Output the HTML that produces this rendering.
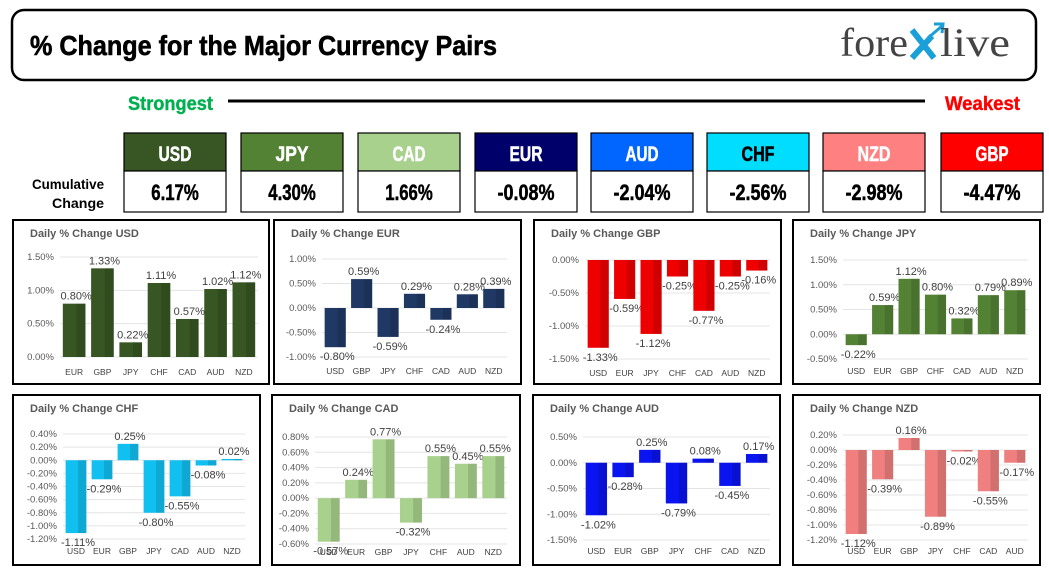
<!DOCTYPE html>
<html><head><meta charset="utf-8">
<style>
body{margin:0;background:#fff;width:1049px;height:581px;overflow:hidden;font-family:"Liberation Sans",sans-serif}
svg{display:block}
</style></head>
<body>
<svg id="s" width="1049" height="581" viewBox="0 0 1049 581" xmlns="http://www.w3.org/2000/svg">
<defs></defs>
<rect x="12" y="10" width="1024" height="70" rx="12" fill="#fff" stroke="#000" stroke-width="2.5"/>
<text x="30" y="55" font-family="Liberation Sans" font-weight="bold" font-size="28" fill="#000" textLength="467" lengthAdjust="spacingAndGlyphs" stroke="#000" stroke-width="0.6">% Change for the Major Currency Pairs</text>
<g>
<text x="840" y="56" font-family="Liberation Serif" font-size="40" fill="#444" textLength="68" lengthAdjust="spacingAndGlyphs">fore</text>
<path d="M912 30 L934 58 M932 36 L912 58" stroke="#1a9fd8" stroke-width="6" fill="none"/>
<path d="M928 38 L942 26 M934 24 L943 24 L942 33" stroke="#1a9fd8" stroke-width="3" fill="none"/>
<text x="940" y="56" font-family="Liberation Serif" font-size="40" fill="#444" textLength="70" lengthAdjust="spacingAndGlyphs">live</text>
</g>
<text x="128" y="110" font-weight="bold" font-size="19" fill="#00b050" textLength="85" lengthAdjust="spacingAndGlyphs" stroke="#00b050" stroke-width="0.4">Strongest</text>
<line x1="228" y1="101" x2="925" y2="101" stroke="#000" stroke-width="3"/>
<text x="945" y="110" font-weight="bold" font-size="19" fill="#f00" textLength="75" lengthAdjust="spacingAndGlyphs" stroke="#f00" stroke-width="0.4">Weakest</text>
<text x="104" y="189" text-anchor="end" font-weight="bold" font-size="14" fill="#000" textLength="72" lengthAdjust="spacingAndGlyphs">Cumulative</text>
<text x="104" y="208" text-anchor="end" font-weight="bold" font-size="14" fill="#000" textLength="52" lengthAdjust="spacingAndGlyphs">Change</text>
<g id="boxes"></g>
<g id="panels"></g>
</svg>
<script>
const ns="http://www.w3.org/2000/svg";
const svg=document.getElementById('s');
function mk(t,a,p){const e=document.createElementNS(ns,t);for(const k in a)e.setAttribute(k,a[k]);p.appendChild(e);return e;}

// Cumulative ranking
const rankCurrencies=["USD","JPY","CAD","EUR","AUD","CHF","NZD","GBP"];
const rankValues=[6.17,4.30,1.66,-0.08,-2.04,-2.56,-2.98,-4.47];
const rankColors=["#375623","#548235","#a9d18e","#00006b","#0066ff","#00ddff","#ff8080","#ff0000"];
const rankText=["#fff","#fff","#fff","#fff","#fff","#000","#fff","#fff"];
const boxX=[124,241,358,475,591,707,823,941];
const boxesG=document.getElementById('boxes');
rankCurrencies.forEach((c,i)=>{
  const g=mk('g',{},boxesG);
  
  
  mk('rect',{x:boxX[i],y:133,width:102,height:38,fill:rankColors[i],stroke:'#000','stroke-width':1.2},g);
  mk('rect',{x:boxX[i],y:171,width:102,height:41,fill:'#fff',stroke:'#000','stroke-width':1.2},g);
  const t=mk('text',{x:boxX[i]+51,y:161,'text-anchor':'middle','font-weight':'bold','font-size':21,fill:rankText[i],stroke:rankText[i],'stroke-width':0.5,textLength:c.length*11,lengthAdjust:'spacingAndGlyphs'},g);t.textContent=c;
  const s=rankValues[i].toFixed(2)+'%';
  const v=mk('text',{x:boxX[i]+51,y:200,'text-anchor':'middle','font-weight':'bold','font-size':22,fill:'#000',stroke:'#000','stroke-width':0.5,textLength:s.length*9.5,lengthAdjust:'spacingAndGlyphs'},g);v.textContent=s;
});

// Panel data
const usdCats=["EUR","GBP","JPY","CHF","CAD","AUD","NZD"];
const usdVals=[0.80,1.33,0.22,1.11,0.57,1.02,1.12];
const usdTicks=[0,0.5,1.0,1.5];
const eurCats=["USD","GBP","JPY","CHF","CAD","AUD","NZD"];
const eurVals=[-0.80,0.59,-0.59,0.29,-0.24,0.28,0.39];
const eurTicks=[-1.0,-0.5,0,0.5,1.0];
const gbpCats=["USD","EUR","JPY","CHF","CAD","AUD","NZD"];
const gbpVals=[-1.33,-0.59,-1.12,-0.25,-0.77,-0.25,-0.16];
const gbpTicks=[-1.5,-1.0,-0.5,0];
const jpyCats=["USD","EUR","GBP","CHF","CAD","AUD","NZD"];
const jpyVals=[-0.22,0.59,1.12,0.80,0.32,0.79,0.89];
const jpyTicks=[-0.5,0,0.5,1.0,1.5];
const chfCats=["USD","EUR","GBP","JPY","CAD","AUD","NZD"];
const chfVals=[-1.11,-0.29,0.25,-0.80,-0.55,-0.08,0.02];
const chfTicks=[-1.2,-1.0,-0.8,-0.6,-0.4,-0.2,0,0.2,0.4];
const cadCats=["USD","EUR","GBP","JPY","CHF","AUD","NZD"];
const cadVals=[-0.57,0.24,0.77,-0.32,0.55,0.45,0.55];
const cadTicks=[-0.6,-0.4,-0.2,0,0.2,0.4,0.6,0.8];
const audCats=["USD","EUR","GBP","JPY","CHF","CAD","NZD"];
const audVals=[-1.02,-0.28,0.25,-0.79,0.08,-0.45,0.17];
const audTicks=[-1.5,-1.0,-0.5,0,0.5];
const nzdCats=["USD","EUR","GBP","JPY","CHF","CAD","AUD"];
const nzdVals=[-1.12,-0.39,0.16,-0.89,-0.02,-0.55,-0.17];
const nzdTicks=[-1.2,-1.0,-0.8,-0.6,-0.4,-0.2,0,0.2];

const panels=[
 {name:'usd',title:'Daily % Change USD',cats:usdCats,vals:usdVals,ticks:usdTicks,color:'#375623',bx:13,by:220,bw:256,bh:164,pl:60,pr:258,pt:257,pb:357,cy:375},
 {name:'eur',title:'Daily % Change EUR',cats:eurCats,vals:eurVals,ticks:eurTicks,color:'#203864',bx:274,by:220,bw:247,bh:164,pl:322,pr:507,pt:259,pb:357,cy:374},
 {name:'gbp',title:'Daily % Change GBP',cats:gbpCats,vals:gbpVals,ticks:gbpTicks,color:'#ee0000',bx:534,by:220,bw:247,bh:164,pl:585,pr:770,pt:260,pb:359,cy:376},
 {name:'jpy',title:'Daily % Change JPY',cats:jpyCats,vals:jpyVals,ticks:jpyTicks,color:'#548235',bx:793,by:220,bw:247,bh:164,pl:843,pr:1028,pt:260,pb:359,cy:374},
 {name:'chf',title:'Daily % Change CHF',cats:chfCats,vals:chfVals,ticks:chfTicks,color:'#11c0f0',bx:13,by:395,bw:247,bh:170,pl:63,pr:245,pt:434,pb:539,cy:554},
 {name:'cad',title:'Daily % Change CAD',cats:cadCats,vals:cadVals,ticks:cadTicks,color:'#a9d18e',bx:272,by:395,bw:248,bh:170,pl:315,pr:507,pt:437,pb:544,cy:555},
 {name:'aud',title:'Daily % Change AUD',cats:audCats,vals:audVals,ticks:audTicks,color:'#0a14f0',bx:533,by:395,bw:247,bh:170,pl:583,pr:770,pt:437,pb:540,cy:554},
 {name:'nzd',title:'Daily % Change NZD',cats:nzdCats,vals:nzdVals,ticks:nzdTicks,color:'#f08080',bx:793,by:395,bw:247,bh:170,pl:843,pr:1028,pt:435,pb:540,cy:554}
];
const pG=document.getElementById('panels');
panels.forEach(P=>{
  const g=mk('g',{},pG);
  
  
  mk('rect',{x:P.bx,y:P.by,width:P.bw,height:P.bh,fill:'#fff',stroke:'#000','stroke-width':2},g);
  const t=mk('text',{x:P.bx+17,y:P.by+17,'font-size':11,'font-weight':'bold',fill:'#595959'},g);
  
  
  t.textContent=P.title;
  const mx=Math.max(...P.ticks),mn=Math.min(...P.ticks);
  const y=v=>P.pt+(mx-v)/(mx-mn)*(P.pb-P.pt);
  const step=(P.pr-P.pl)/P.cats.length;
  const x=i=>P.pl+step*(i+0.5);
  P.ticks.forEach(tv=>{
    mk('line',{x1:P.pl,x2:P.pr,y1:y(tv),y2:y(tv),stroke:'#e4e4e4','stroke-width':1},g);
    const tl=mk('text',{x:P.pl-6,y:y(tv)+3,'text-anchor':'end','font-size':9.5,fill:'#595959'},g);
    
    
    tl.textContent=tv.toFixed(2)+'%';
  });
  const bw=step*0.8;
  P.vals.forEach((v,i)=>{
    const y0=y(0),y1=y(v);
    const left=x(i)-bw/2, top=Math.min(y0,y1), h=Math.max(1,Math.abs(y1-y0));
    const r=mk('rect',{x:left,y:top,width:bw,height:h,fill:P.color},g);
    
    
    const sh=mk('rect',{x:left+bw*0.6,y:top,width:bw*0.4,height:h,fill:'#000','fill-opacity':0.12},g);
    
    
    const lt=mk('text',{x:x(i)+2,y:v>=0?y1-4:y1+13,'text-anchor':'middle','font-size':11,fill:'#404040'},g);
    
    
    lt.textContent=v.toFixed(2)+'%';
    const cl=mk('text',{x:x(i),y:P.cy,'text-anchor':'middle','font-size':8.5,fill:'#404040'},g);
    
    
    cl.textContent=P.cats[i];
  });
});
</script>
</body></html>
